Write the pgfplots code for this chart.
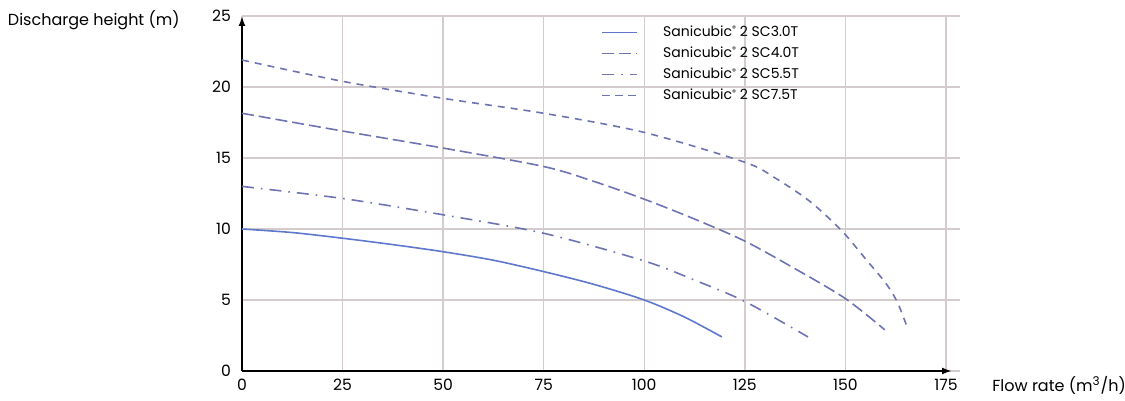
\documentclass[border=0pt]{standalone}
\usepackage{pgfplots}
\pgfplotsset{compat=1.18}
\usepackage{fontspec}
\setmainfont{Poppins}
\usetikzlibrary{arrows.meta}
\definecolor{cA}{RGB}{95,120,205}
\definecolor{cB}{RGB}{110,115,178}
\definecolor{gridc}{RGB}{212,204,204}
\newcommand{\reg}{\raisebox{0.55ex}{\fontsize{4}{4}\selectfont ®}}
\begin{document}
\begin{tikzpicture}
\path[use as bounding box] (-121pt,-15pt) rectangle (441.5pt,185.5pt);
\begin{axis}[
  at={(0,0)}, anchor=south west,
  scale only axis, width=359pt, height=177.5pt,
  xmin=0, xmax=178.5, ymin=0, ymax=25,
  axis lines=left,
  axis line style={line width=1pt},
  x axis line style={-{Latex[length=5pt,width=3.5pt]}, shorten >=4pt},
  y axis line style={-{Latex[length=5pt,width=3.5pt]}},
  xtick={0,25,...,175}, ytick={0,5,...,25},
  major tick length=0pt,
  grid=major,
  major grid style={gridc, line width=0.7pt},
  tick label style={font=\fontsize{7.8}{9}\selectfont},
  /pgf/number format/assume math mode=true,
  xticklabel style={yshift=-0.5pt},
  yticklabel style={xshift=-2pt},
  legend style={at={(rel axis cs:0.492,0.997)}, anchor=north west, draw=none, fill=none,
    font=\fontsize{7}{8}\selectfont, row sep=-0.3pt, legend cell align=left},
  legend image post style={line width=0.7pt},
  clip=false,
]
\addplot[cA, line width=0.8pt, smooth, tension=0.5] coordinates {
(0,10) (12.5,9.75) (25,9.35) (37.5,8.9) (50,8.4) (62.5,7.8) (75,7.0) (87.5,6.1) (100,5.0) (110,3.8) (119.3,2.4)};
\addlegendentry{\hspace*{11pt}Sanicubic\reg\ 2 SC3.0T}
\addplot[cB, line width=0.8pt, smooth, tension=0.5, dash pattern=on 6pt off 2.5pt] coordinates {
(0,18.15) (25,16.9) (50,15.7) (75,14.4) (87.5,13.35) (100,12.1) (112.5,10.7) (125,9.15) (137.5,7.2) (150,5.1) (159.8,2.9)};
\addlegendentry{\hspace*{11pt}Sanicubic\reg\ 2 SC4.0T}
\addplot[cB, line width=0.8pt, smooth, tension=0.5, dash pattern=on 6pt off 3.5pt on 0.8pt off 3.5pt] coordinates {
(0,13) (25,12.15) (50,11.0) (75,9.7) (100,7.75) (112.5,6.4) (125,4.9) (140.7,2.4)};
\addlegendentry{\hspace*{11pt}Sanicubic\reg\ 2 SC5.5T}
\addplot[cB, line width=0.8pt, smooth, tension=0.5, dash pattern=on 3.5pt off 3pt] coordinates {
(0,21.9) (25,20.4) (50,19.2) (75,18.15) (100,16.8) (125,14.7) (132.5,13.6) (140,12.2) (145,11.0) (150,9.6) (155,7.9) (160,6.2) (163,4.8) (165.6,2.9)};
\addlegendentry{\hspace*{11pt}Sanicubic\reg\ 2 SC7.5T}
\end{axis}
\node[anchor=east, font=\fontsize{8}{9}\selectfont, inner sep=0pt] at (-31pt,175.5pt) {Discharge height (m)};
\node[anchor=west, font=\fontsize{8}{9}\selectfont, inner sep=0pt] at (375pt,-7pt) {Flow rate (m\textsuperscript{3}/h)};
\end{tikzpicture}
\end{document}
